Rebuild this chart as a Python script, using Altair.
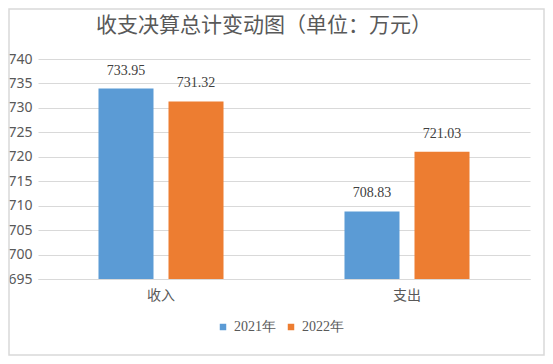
import altair as alt
import pandas as pd

categories = ["收入", "支出"]
years = ["2021年", "2022年"]
values_2021 = [733.95, 708.83]
values_2022 = [731.32, 721.03]
y_ticks = [695, 700, 705, 710, 715, 720, 725, 730, 735, 740]
colors = ["#5b9bd5", "#ed7d31"]
title_text = "收支决算总计变动图（单位：万元）"

rows = []
for i, c in enumerate(categories):
    rows.append({"category": c, "year": years[0], "value": values_2021[i]})
    rows.append({"category": c, "year": years[1], "value": values_2022[i]})
df = pd.DataFrame(rows)

W, H = 492, 220
PAD = {"left": 30, "top": 51, "right": 15, "bottom": 77}

x_axis = alt.Axis(labelAngle=0, labelFont="Noto Sans CJK SC", labelFontSize=14,
                  labelColor="#595959", labelPadding=9, ticks=False,
                  domainColor="#d9d9d9", grid=False)
y_axis = alt.Axis(values=y_ticks, tickCount=10, labelFont="Noto Sans", labelFontSize=14,
                  labelColor="#595959", labelPadding=6, ticks=False,
                  labelOverlap=False, labelBound=False,
                  domain=False, gridColor="#d9d9d9")
x_scale = alt.Scale(paddingInner=0, paddingOuter=0)
xo_scale = alt.Scale(paddingInner=0.2143, paddingOuter=0.864)
y_scale = alt.Scale(domain=[695, 740], zero=False, nice=False)

bars = alt.Chart(df).mark_bar().encode(
    x=alt.X("category:N", sort=categories, title=None, scale=x_scale, axis=x_axis),
    xOffset=alt.XOffset("year:N", sort=years, scale=xo_scale),
    y=alt.Y("value:Q", scale=y_scale, title=None, axis=y_axis),
    y2=alt.datum(695),
    color=alt.Color("year:N", sort=years, scale=alt.Scale(domain=years, range=colors),
                    legend=alt.Legend(title=None, orient="none", direction="horizontal",
                                      legendX=178, legendY=261, symbolType="square",
                                      symbolSize=42, symbolStrokeWidth=0,
                                      labelFont="Liberation Serif", labelFontSize=14,
                                      labelColor="#595959", columnPadding=8,
                                      labelOffset=4)),
)

labels = alt.Chart(df).mark_text(baseline="middle", dy=-18, font="Liberation Serif",
                                 fontSize=14, color="#404040").encode(
    x=alt.X("category:N", sort=categories, title=None, scale=x_scale, axis=x_axis),
    xOffset=alt.XOffset("year:N", sort=years, scale=xo_scale),
    y=alt.Y("value:Q", scale=y_scale, title=None, axis=y_axis),
    text=alt.Text("value:Q", format=".2f"),
)

title = alt.Chart(pd.DataFrame({"t": [title_text]})).mark_text(
    font="Noto Sans CJK SC", fontSize=21, color="#595959", align="center",
    baseline="middle", clip=False
).encode(
    x=alt.value(226), y=alt.value(-33), text="t:N"
)

border = alt.Chart(pd.DataFrame({"a": [0]})).mark_rect(
    fill=None, stroke="#d9d9d9", strokeWidth=1.5, clip=False
).encode(
    x=alt.value(-PAD["left"] + 1),
    x2=alt.value(W + PAD["right"] - 1),
    y=alt.value(-PAD["top"] + 1),
    y2=alt.value(H + PAD["bottom"] - 1),
)

chart = alt.layer(bars, labels, title, border).properties(
    width=W, height=H,
    autosize=alt.AutoSizeParams(type="none"),
    padding=PAD,
).configure_view(stroke=None)

chart.save("out.html", embed_options={"renderer": "svg", "actions": False})
